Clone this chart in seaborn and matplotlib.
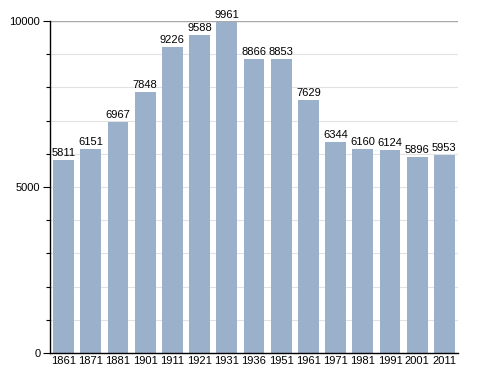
import numpy as np
import pandas as pd
import matplotlib
matplotlib.use("Agg")
import matplotlib.pyplot as plt
import seaborn as sns
from matplotlib.ticker import MultipleLocator

# census years and population
years = ['1861', '1871', '1881', '1901', '1911', '1921', '1931', '1936',
         '1951', '1961', '1971', '1981', '1991', '2001', '2011']
population = [5811, 6151, 6967, 7848, 9226, 9588, 9961, 8866,
              8853, 7629, 6344, 6160, 6124, 5896, 5953]

df = pd.DataFrame({'year': years, 'pop': population})

sns.set_style('white')
plt.rcParams['font.family'] = ['Liberation Sans', 'DejaVu Sans']
plt.rcParams['text.color'] = 'black'
plt.rcParams['xtick.color'] = 'black'
plt.rcParams['ytick.color'] = 'black'

fig = plt.figure(figsize=(4.88, 3.73), dpi=100)
ax = fig.add_axes([0.1025, 0.0536, 0.836, 0.89])

sns.barplot(data=df, x='year', y='pop', color='#9bb0cb', saturation=1,
            width=0.77, linewidth=0, ax=ax, zorder=2)

ax.set_ylim(0, 10000)
ax.set_xlim(-0.5, len(years) - 0.5)
ax.yaxis.set_major_locator(MultipleLocator(5000))
ax.yaxis.set_minor_locator(MultipleLocator(1000))
ax.grid(axis='y', which='both', color='#e2e2e2', lw=0.8, zorder=0)
ax.axhline(10000, color='#a8a8a8', lw=1, zorder=1)
ax.set_axisbelow(True)

for s in ['top', 'right']:
    ax.spines[s].set_visible(False)
for s in ['left', 'bottom']:
    ax.spines[s].set_color('black')
    ax.spines[s].set_linewidth(1)

ax.tick_params(axis='y', which='major', length=5, width=0.8, labelsize=8,
               pad=2, left=True, labelcolor='black')
ax.tick_params(axis='y', which='minor', length=3, width=0.8, left=True)
ax.tick_params(axis='x', length=0, labelsize=8, pad=2, labelcolor='black')
ax.set_xlabel('')
ax.set_ylabel('')

for i, v in enumerate(population):
    ax.text(i, v + 60, str(v), ha='center', va='bottom', fontsize=8, color='black')

fig.savefig('out.png', dpi=100)
